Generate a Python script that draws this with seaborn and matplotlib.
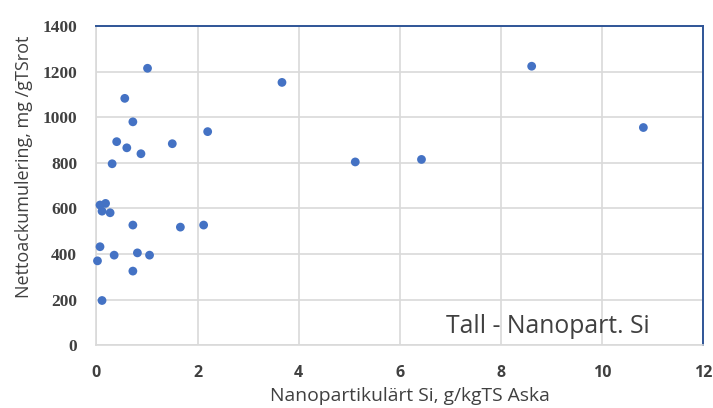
import matplotlib
matplotlib.use("Agg")
import matplotlib.pyplot as plt
import seaborn as sns
import pandas as pd

# Nanoparticulate Si (g/kgTS ash) vs net accumulation (mg/gTS root), pine
si_nano = [1.01, 0.56, 0.72, 0.40, 0.60, 0.88, 1.50, 2.20, 0.31,
           0.07, 0.18, 0.11, 0.27, 0.72, 1.66, 2.12, 0.07, 0.35,
           0.81, 1.05, 0.02, 0.72, 0.11,
           3.67, 5.12, 6.43, 8.61, 10.82]
netto_ack = [1215, 1083, 980, 893, 866, 840, 884, 937, 796,
             615, 622, 588, 581, 527, 518, 527, 432, 395,
             405, 395, 370, 325, 196,
             1153, 804, 815, 1224, 955]

x_ticks = [0, 2, 4, 6, 8, 10, 12]
y_ticks = [0, 200, 400, 600, 800, 1000, 1200, 1400]

df = pd.DataFrame({"si": si_nano, "netto": netto_ack})

sns.set_style("white")
plt.rcParams["font.family"] = ["Open Sans", "DejaVu Sans"]

fig = plt.figure(figsize=(7.13, 4.08), dpi=100)
ax = fig.add_axes([0.1353, 0.154, 0.8507, 0.782])

grid_c = "#D9D9D9"
text_c = "#404040"
ax.set_axisbelow(True)
ax.grid(True, color=grid_c, linewidth=1.2)

sns.scatterplot(data=df, x="si", y="netto", ax=ax, color="#4472C4",
                s=40, edgecolor="none", clip_on=False, zorder=3)

ax.set_xlim(0, 12)
ax.set_ylim(0, 1400)
ax.set_xticks(x_ticks)
ax.set_yticks(y_ticks)
ax.set_xticklabels([str(v) for v in x_ticks], fontsize=11.5,
                   fontweight="bold", color=text_c)
ax.set_yticklabels([str(v) for v in y_ticks], fontsize=12.5,
                   fontweight="bold", color=text_c,
                   family="Liberation Serif")
ax.tick_params(axis="both", length=0)
ax.tick_params(axis="y", pad=14)
ax.tick_params(axis="x", pad=14)

for side in ("left", "bottom"):
    ax.spines[side].set_color(grid_c)
    ax.spines[side].set_linewidth(1.2)
for side in ("top", "right"):
    ax.spines[side].set_color("#2F5597")
    ax.spines[side].set_linewidth(1.4)

ax.set_xlabel("Nanopartikulärt Si, g/kgTS Aska", fontsize=13.9,
              color=text_c)
ax.set_ylabel("Nettoackumulering, mg /gTSrot", fontsize=13,
              color=text_c)
ax.xaxis.set_label_coords(0.5165, -0.132)
ax.yaxis.set_label_coords(-0.104, 0.56)

ax.text(0.912, 0.02, "Tall - Nanopart. Si", transform=ax.transAxes,
        ha="right", va="bottom", fontsize=17.8, color=text_c)

fig.savefig("out.png", dpi=100, facecolor="white")
